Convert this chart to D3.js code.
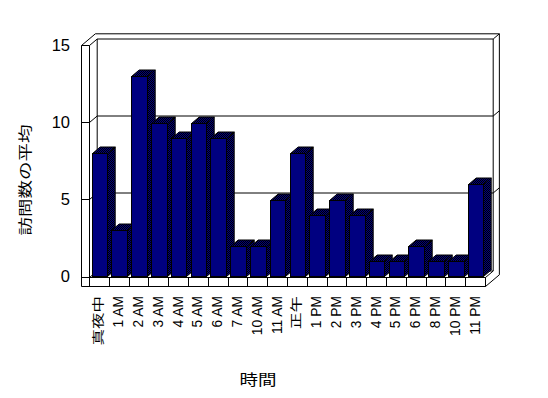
<!DOCTYPE html>
<html><head><meta charset="utf-8">
<script src="https://cdn.jsdelivr.net/npm/d3@7"></script>
<style>
html,body{margin:0;padding:0;background:#fff;}
svg{display:block;}
text{font-family:"Liberation Sans",Arial,"Noto Sans CJK JP",sans-serif;fill:#000;}
</style></head>
<body>
<script>
const categories = ["真夜中","1 AM","2 AM","3 AM","4 AM","5 AM","6 AM","7 AM","10 AM","11 AM","正午","1 PM","2 PM","3 PM","4 PM","5 PM","6 PM","8 PM","10 PM","11 PM"];
const values = [8,3,13,10,9,10,9,2,2,5,8,4,5,4,1,1,2,1,1,6];
const yTicks = [0,5,10,15];
const xTitle = "時間";
const yTitle = "訪問数の平均";

const W = 548, H = 398;
const svg = d3.select("body").append("svg").attr("width", W).attr("height", H);

const defs = svg.append("defs");
const pat = defs.append("pattern").attr("id","dither").attr("width",2).attr("height",2).attr("patternUnits","userSpaceOnUse");
pat.append("rect").attr("width",2).attr("height",2).attr("fill","#000080");
pat.append("rect").attr("width",1).attr("height",1).attr("fill","#000");
pat.append("rect").attr("x",1).attr("y",1).attr("width",1).attr("height",1).attr("fill","#000");

// geometry
const L = 81.5, x0 = 89.5, x1 = 485.5;
const floorTop = 277.5, floorBot = 286.5;
const DX = 7.7, DY = -6.5, K = 1.8;

const x = d3.scaleBand().domain(categories).range([x0, x1]).paddingInner(0.21).paddingOuter(0.105);
const step = x.step();
const y = d3.scaleLinear().domain([0, 15]).range([276.5, 45.5]);
const yMax = y(15);

const g = svg.append("g").attr("fill","none").attr("stroke","#000").attr("stroke-width",1);
function line(pts){ g.append("path").attr("d", d3.line()(pts)); }

// walls
line([[L, yMax],[L, floorBot]]);
line([[x0, yMax],[x0, floorTop]]);
line([[L, floorTop],[x1, floorTop]]);
line([[L, floorBot],[x1, floorBot]]);
line([[x1, floorTop],[x1, floorBot]]);
line([[x1, floorTop],[x1+DX, floorTop+DY]]);
line([[x1, floorBot],[x1+K*DX, floorBot+K*DY]]);
line([[x0+DX, yMax+DY],[x0+DX, floorTop+DY]]);
line([[x1+DX, yMax+DY],[x1+DX, floorTop+DY]]);
line([[x1+K*DX, yMax+K*DY],[x1+K*DX, floorBot+K*DY]]);
line([[x0+DX, floorTop+DY],[x1+DX, floorTop+DY]]);
line([[x0, floorTop],[x0+DX, floorTop+DY]]);
// top
line([[L, yMax],[x0, yMax],[x0+DX, yMax+DY],[x1+DX, yMax+DY],[x1+K*DX, yMax+K*DY]]);
line([[L, yMax],[L+K*DX, yMax+K*DY],[x1+K*DX, yMax+K*DY]]);
// gridlines
yTicks.filter(v => v > 0 && v < 15).forEach(v => {
  const yy = Math.round(y(v) - 0.5) + 0.5;
  line([[L, yy],[x0, yy],[x0+DX, yy+DY],[x1+DX, yy+DY],[x1+K*DX, yy+K*DY]]);
});
// floor ticks
d3.range(categories.length + 1).forEach(i => {
  const xx = Math.round(x0 + i*step - 0.5) + 0.5;
  line([[xx, floorTop],[xx, floorBot]]);
});

// bars
const bars = svg.append("g").attr("stroke","#000").attr("stroke-width",1).attr("stroke-linejoin","miter");
categories.forEach((c, i) => {
  const v = values[i];
  const xl = Math.round(x(c)) + 0.5, xr = Math.round(x(c) + x.bandwidth()) + 0.5;
  const yt = Math.round(y(v)) + 0.5, yb = y(0);
  const bg = bars.append("g");
  bg.append("path").attr("fill","url(#dither)")
    .attr("d", d3.line()([[xr, yt],[xr+DX, yt+DY],[xr+DX, yb+DY],[xr, yb]]) + "Z");
  bg.append("path").attr("fill","url(#dither)")
    .attr("d", d3.line()([[xl, yt],[xl+DX, yt+DY],[xr+DX, yt+DY],[xr, yt]]) + "Z");
  bg.append("rect").attr("x", xl).attr("y", yt).attr("width", xr - xl).attr("height", yb - yt).attr("fill","#000080");
});

// y tick labels
svg.append("g").selectAll("text").data(yTicks).join("text")
  .attr("x", 70).attr("y", d => y(d)).attr("dy","0.36em")
  .attr("text-anchor","end").attr("font-size",16.5).text(d => d);

// x tick labels
const isCJK = s => /[\u3000-\u9fff]/.test(s);
svg.append("g").selectAll("text").data(categories).join("text")
  .attr("transform", d => `translate(${x(d) + x.bandwidth()/2 - 1},296) rotate(-90)` + (isCJK(d) ? " scale(1,0.75)" : ""))
  .attr("text-anchor","end").attr("dy","0.36em")
  .attr("font-size", d => isCJK(d) ? 16.5 : 13.8).text(d => d);

// titles
svg.append("text").attr("transform","translate(258,380) scale(1,0.8)")
  .attr("text-anchor","middle").attr("dy","0.36em").attr("font-size",18.5).text(xTitle);
svg.append("text").attr("transform","translate(25,180) rotate(-90) scale(1,0.72)")
  .attr("text-anchor","middle").attr("dy","0.36em").attr("font-size",18.5).text(yTitle);
</script>
</body></html>
